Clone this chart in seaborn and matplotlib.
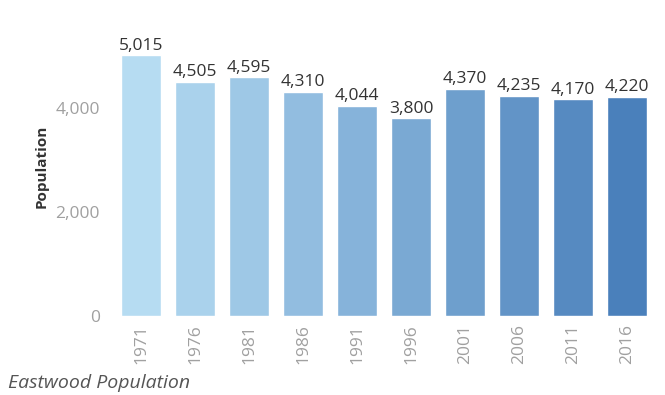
import matplotlib
matplotlib.use("Agg")
import matplotlib.pyplot as plt
import seaborn as sns
import pandas as pd

years = ["1971", "1976", "1981", "1986", "1991", "1996", "2001", "2006", "2011", "2016"]
population = [5015, 4505, 4595, 4310, 4044, 3800, 4370, 4235, 4170, 4220]
y_ticks = [0, 2000, 4000]
y_tick_labels = ["0", "2,000", "4,000"]

sns.set_theme(style="white")
plt.rcParams["font.family"] = ["Open Sans", "DejaVu Sans"]

df = pd.DataFrame({"Year": years, "Population": population})
palette = sns.blend_palette(["#b6dcf2", "#4a80bb"], len(years))

fig = plt.figure(figsize=(6.65, 3.95), dpi=100)
ax = fig.add_axes([114 / 665, 1 - 316 / 395, 540 / 665, 300 / 395])

sns.barplot(data=df, x="Year", y="Population", hue="Year", palette=palette,
            legend=False, width=0.74, saturation=1, ax=ax)

ax.set_ylim(0, 300 / 0.052)
ax.set_xlim(-0.5, len(years) - 0.5)

for cont in ax.containers:
    ax.bar_label(cont, labels=[f"{v:,.0f}" for v in cont.datavalues],
                 padding=1, fontsize=12.5, color="#333333")

ax.set_yticks(y_ticks)
ax.set_yticklabels(y_tick_labels, fontsize=12.5, color="#a0a0a0")
ax.tick_params(axis="y", length=0, pad=10)
ax.tick_params(axis="x", length=0, pad=6, labelrotation=90, labelsize=12.5,
               labelcolor="#a0a0a0")
ax.set_xlabel("")
ax.set_ylabel("Population", fontsize=11, fontweight="bold", color="#333333",
              labelpad=5)
sns.despine(ax=ax, left=True, bottom=True)

fig.text(8 / 665, 1 - 383 / 395, "Eastwood Population", fontsize=14,
         style="italic", color="#555555", va="center", ha="left")

fig.savefig("out.png", dpi=100)
